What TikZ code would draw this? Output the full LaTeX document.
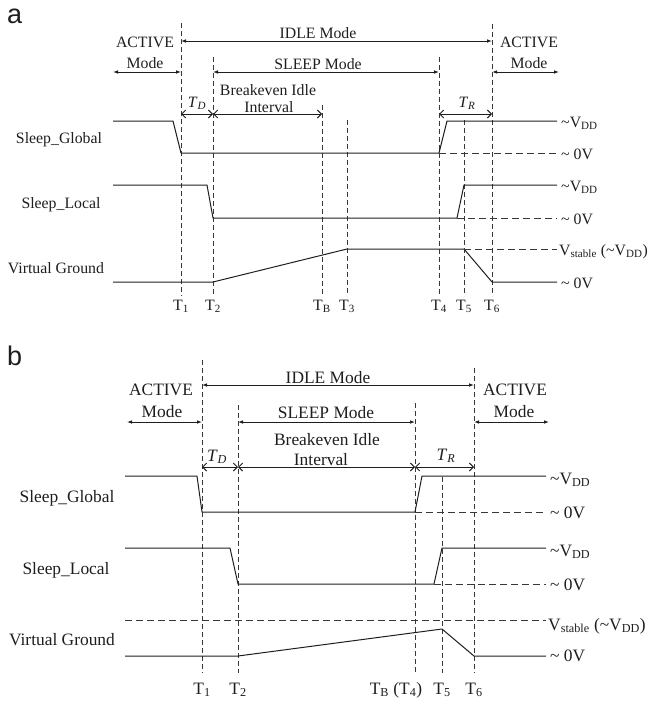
\documentclass[tikz,border=0pt]{standalone}
\usepackage{fontspec}
\setmainfont{Liberation Serif}
\newfontfamily\panelfont{Liberation Sans}
\usetikzlibrary{arrows.meta}
\definecolor{ink}{HTML}{1E1E1E}
\definecolor{dashink}{HTML}{383838}
\newcommand{\tld}{\textasciitilde}
\begin{document}
\begin{tikzpicture}[x=1pt,y=-1pt,
  sig/.style={ink, line width=1pt, line join=round},
  vdash/.style={dashink, line width=0.85pt, dash pattern=on 5pt off 3pt},
  hdash/.style={dashink, line width=0.85pt, dash pattern=on 7pt off 4pt},
  modearrow/.style={ink, line width=0.9pt, {Latex[length=5pt,width=3.6pt]}-{Latex[length=5pt,width=3.6pt]}},
  barbarrow/.style={ink, line width=0.9pt, {Straight Barb[length=4pt,width=8pt]}-{Straight Barb[length=4pt,width=8pt]}},
  fa/.style={font=\fontsize{15.8}{18}\selectfont, text=ink, inner sep=0pt, anchor=base},
  fb/.style={font=\fontsize{17.4}{20}\selectfont, text=ink, inner sep=0pt, anchor=base},
  panel/.style={font=\panelfont\fontsize{27}{30}\selectfont, text=ink, inner sep=0pt, anchor=base west},
]
\useasboundingbox (0,0) rectangle (648,701);

%================ panel a ================
\node[panel] (la) at (7,24) {a};

% time markers
\foreach \n/\x/\t in {T1/181/23, T2/213/57, TB/322/105, T3/347/120, T4/439/57, T5/464/120, T6/492/24}{
  \coordinate (a\n top) at (\x,\t);
  \coordinate (a\n bot) at (\x,296);
  \draw[vdash] (a\n top) -- (a\n bot);
}
\node[fa] (aT1) at (181,310) {T\textsubscript{1}};
\node[fa] (aT2) at (213,310) {T\textsubscript{2}};
\node[fa] (aTB) at (322,310) {T\textsubscript{B}};
\node[fa] (aT3) at (347,310) {T\textsubscript{3}};
\node[fa] (aT4) at (439,310) {T\textsubscript{4}};
\node[fa] (aT5) at (464,310) {T\textsubscript{5}};
\node[fa] (aT6) at (492,310) {T\textsubscript{6}};

% mode arrows
\coordinate (aIdleL) at (181,41);  \coordinate (aIdleR) at (492,41);
\draw[modearrow] (aIdleL) -- (aIdleR);
\node[fa] (aIdle) at (318,38) {IDLE Mode};
\coordinate (aActL1) at (113,72); \coordinate (aActL2) at (181,72);
\draw[modearrow] (aActL1) -- (aActL2);
\node[fa] (aAct1) at (145,48) {ACTIVE};
\node[fa] (aAct1m) at (145,68) {Mode};
\coordinate (aSlL) at (213,72); \coordinate (aSlR) at (439,72);
\draw[modearrow] (aSlL) -- (aSlR);
\node[fa] (aSleep) at (318,70) {SLEEP Mode};
\coordinate (aActR1) at (492,72); \coordinate (aActR2) at (559,72);
\draw[modearrow] (aActR1) -- (aActR2);
\node[fa] (aAct2) at (529,48) {ACTIVE};
\node[fa] (aAct2m) at (529,68) {Mode};

% interval arrows
\coordinate (aTdL) at (181,114); \coordinate (aTdR) at (213,114);
\coordinate (aBkR) at (322,114);
\coordinate (aTrL) at (439,114); \coordinate (aTrR) at (492,114);
\draw[barbarrow] (aTdL) -- (aTdR);
\draw[barbarrow] (aTdR) -- (aBkR);
\draw[barbarrow] (aTrL) -- (aTrR);
\node[fa] (aTD) at (197,107) {\textit{T}\textsubscript{\textit{D}}};
\node[fa] (aTR) at (467,107) {\textit{T}\textsubscript{\textit{R}}};
\node[fa] (aBk1) at (268,95) {Breakeven Idle};
\node[fa] (aBk2) at (269,112) {Interval};

% signals
\node[fa] (aSG) at (59,143) {Sleep\_Global};
\draw[sig] (113,121) -- (173,121) -- (181,153) -- (439,153) -- (447,121) -- (557,121);
\draw[hdash] (439,153) -- (557,153);
\node[fa] (aSL) at (61,208) {Sleep\_Local};
\draw[sig] (113,185) -- (207,185) -- (213,218) -- (457,218) -- (464,185) -- (557,185);
\draw[hdash] (457,218) -- (557,218);
\node[fa] (aVG) at (56,273) {Virtual Ground};
\draw[sig] (113,282) -- (213,282) -- (347,249) -- (464,249) -- (492,282) -- (557,282);
\draw[hdash] (464,249) -- (557,249);

\node[fa, anchor=base west] (aV1) at (561,127.5) {\tld V\textsubscript{DD}};
\node[fa, anchor=base west] (aZ1) at (561,159) {\tld\ 0V};
\node[fa, anchor=base west] (aV2) at (561,191.5) {\tld V\textsubscript{DD}};
\node[fa, anchor=base west] (aZ2) at (561,224) {\tld\ 0V};
\node[fa, anchor=base west] (aVs) at (559,255) {V\textsubscript{stable} (\tld V\textsubscript{DD})};
\node[fa, anchor=base west] (aZ3) at (561,288) {\tld\ 0V};

%================ panel b ================
\node[panel] (lb) at (7,365) {b};

\foreach \n/\x/\t in {T1/202/360, T2/238/405, TB/415/403, T5/442/477, T6/474/368}{
  \coordinate (b\n top) at (\x,\t);
  \coordinate (b\n bot) at (\x,673);
  \draw[vdash] (b\n top) -- (b\n bot);
}
\node[fb] (bT1) at (202,694) {T\textsubscript{1}};
\node[fb] (bT2) at (238,694) {T\textsubscript{2}};
\node[fb] (bTB) at (396,694) {T\textsubscript{B} (T\textsubscript{4})};
\node[fb] (bT5) at (442,694) {T\textsubscript{5}};
\node[fb] (bT6) at (474,694) {T\textsubscript{6}};

\coordinate (bIdleL) at (202,385); \coordinate (bIdleR) at (474,385);
\draw[modearrow] (bIdleL) -- (bIdleR);
\node[fb] (bIdle) at (328,383) {IDLE Mode};
\coordinate (bActL1) at (127,422); \coordinate (bActL2) at (202,422);
\draw[modearrow] (bActL1) -- (bActL2);
\node[fb] (bAct1) at (161,395) {ACTIVE};
\node[fb] (bAct1m) at (162,417) {Mode};
\coordinate (bSlL) at (238,422); \coordinate (bSlR) at (415,422);
\draw[modearrow] (bSlL) -- (bSlR);
\node[fb] (bSleep) at (326,418) {SLEEP Mode};
\coordinate (bActR1) at (474,422); \coordinate (bActR2) at (549,422);
\draw[modearrow] (bActR1) -- (bActR2);
\node[fb] (bAct2) at (515,395) {ACTIVE};
\node[fb] (bAct2m) at (514,417) {Mode};

\coordinate (bTdL) at (202,467); \coordinate (bTdR) at (238,467);
\coordinate (bBkR) at (415,467); \coordinate (bTrR) at (474,467);
\draw[barbarrow] (bTdL) -- (bTdR);
\draw[barbarrow] (bTdR) -- (bBkR);
\draw[barbarrow] (bBkR) -- (bTrR);
\node[fb] (bTD) at (217,461) {\textit{T}\textsubscript{\textit{D}}};
\node[fb] (bTR) at (446,460) {\textit{T}\textsubscript{\textit{R}}};
\node[fb] (bBk1) at (327,445) {Breakeven Idle};
\node[fb] (bBk2) at (321,465) {Interval};

\node[fb] (bSG) at (67,502) {Sleep\_Global};
\draw[sig] (125,476) -- (197,476) -- (202,512) -- (415,512) -- (422,476) -- (546,476);
\draw[hdash] (415,512) -- (546,512);
\node[fb] (bSL) at (66,574) {Sleep\_Local};
\draw[sig] (125,548) -- (230,548) -- (238,584) -- (434,584) -- (442,548) -- (546,548);
\draw[hdash] (434,584) -- (546,584);
\node[fb] (bVG) at (62,645) {Virtual Ground};
\draw[hdash] (125,620) -- (546,620);
\draw[sig] (125,656) -- (238,656) -- (442,629) -- (474,656) -- (546,656);

\node[fb, anchor=base west] (bV1) at (550,484) {\tld V\textsubscript{DD}};
\node[fb, anchor=base west] (bZ1) at (550,518) {\tld\ 0V};
\node[fb, anchor=base west] (bV2) at (550,556) {\tld V\textsubscript{DD}};
\node[fb, anchor=base west] (bZ2) at (550,590) {\tld\ 0V};
\node[fb, anchor=base west] (bVs) at (548,630) {V\textsubscript{stable} (\tld V\textsubscript{DD})};
\node[fb, anchor=base west] (bZ3) at (550,661) {\tld\ 0V};
\end{tikzpicture}
\end{document}
